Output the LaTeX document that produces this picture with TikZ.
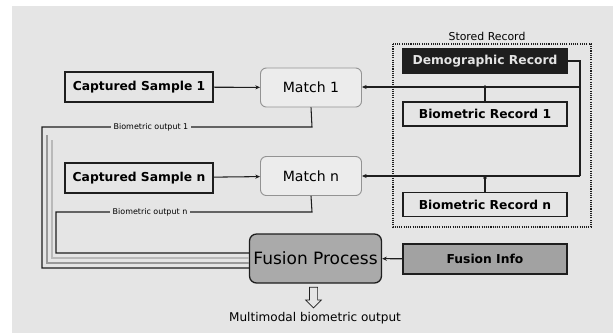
\documentclass[tikz,border=0pt]{standalone}
\usepackage{fontspec}
\setmainfont{DejaVu Sans}
\usetikzlibrary{arrows.meta,positioning,shapes.arrows}
\definecolor{panelgray}{RGB}{229,229,229}
\definecolor{matchgray}{RGB}{236,236,236}
\definecolor{fusiongray}{RGB}{170,170,170}
\definecolor{infogray}{RGB}{162,162,162}
\definecolor{darkline}{RGB}{30,30,30}

\begin{document}
\begin{tikzpicture}[
    x=0.03cm, y=-0.03cm,
    box/.style={draw=darkline, line width=1.1pt, fill=panelgray, inner sep=0pt, align=center, font=\bfseries\fontsize{10.5}{12}\selectfont},
    sample/.style={box, minimum width=4.44cm, minimum height=0.9cm},
    record/.style={box, minimum width=4.92cm, minimum height=0.72cm},
    matcher/.style={draw=gray!85, line width=0.8pt, rounded corners=5pt, fill=matchgray, minimum width=3.03cm, minimum height=1.17cm, font=\fontsize{12}{14}\selectfont},
    small/.style={fill=panelgray, inner sep=2.5pt, font=\fontsize{6.8}{8}\selectfont},
    link/.style={draw=darkline, line width=0.9pt},
    arrow/.style={link, -{Stealth[length=4pt,width=3.5pt]}},
    shade1/.style={draw=gray!80, line width=1pt},
    shade2/.style={draw=gray!55, line width=1pt}
]
% canvas
\fill[white] (0,0) rectangle (613,333);
\fill[panelgray] (12,6) rectangle (613,333);

% Stored record panel
\draw[darkline, densely dotted, line width=0.9pt] (393,44) rectangle (591,227);
\node[font=\fontsize{9.3}{10}\selectfont] (stored) at (487,36) {Stored Record};

% Samples and matchers
\node[sample] (cs1) at (139,87) {Captured Sample 1};
\node[matcher] (m1) at (311,87.5) {Match 1};
\node[sample] (csn) at (139,178) {Captured Sample n};
\node[matcher] (mn) at (311,176) {Match n};

% Records
\node[record, fill=darkline, text=white!90!black] (demo) at (485,61) {Demographic Record};
\node[record] (br1) at (485,114) {Biometric Record 1};
\node[record] (brn) at (485,204.5) {Biometric Record n};

% Fusion
\node[draw=darkline, line width=1.1pt, rounded corners=6pt, fill=fusiongray, minimum width=3.93cm, minimum height=1.47cm, font=\fontsize{14.5}{16}\selectfont] (fusion) at (315.5,258.5) {Fusion Process};
\node[box, fill=infogray, minimum width=4.92cm, minimum height=0.9cm] (info) at (485,259) {Fusion Info};
\node[single arrow, draw=darkline, fill=white!90!black, line width=0.6pt, shape border rotate=270, minimum height=0.62cm, single arrow head extend=3.2pt, inner sep=3.2pt] (outarrow) at (313.5,295.5) {};
\node[font=\fontsize{10.3}{12}\selectfont] (outtxt) at (315,318) {Multimodal biometric output};

% bend points
\coordinate (j1) at (485,87);
\coordinate (jn) at (485,178);
\coordinate (rtop) at (580,61);

% Arrows - samples to matchers
\draw[arrow] (cs1) -- (m1);
\draw[arrow] (csn) -- (mn);

% Arrows - records to matchers
\draw[link] (demo.east) -- (rtop) -- (rtop |- mn.east) coordinate (rbot);
\draw[arrow] (rtop |- j1) -- (m1.east |- j1);
\draw[arrow] (rbot) -- (mn.east |- rbot);
\draw[link] (j1) -- (br1.north);
\draw[link] (jn) -- (brn.north);
\fill[darkline] (j1) circle (1.6pt) (jn) circle (1.6pt);

% shadow lines into fusion
\draw[shade2] (52,140) -- (52,258) -- (fusion.west |- 0,258);
\draw[shade1] (47,135) -- (47,263) -- (fusion.west |- 0,263);

% Arrows - matcher outputs to fusion
\draw[link] (m1.south) -- (312,127) -- (42,127) -- (42,268) -- (fusion.west |- 0,268);
\draw[link] (mn.south) -- (312,212) -- (56,212) -- (56,253) -- (fusion.west |- 0,253);
\node[small] (bo1) at (151,127) {Biometric output 1};
\node[small] (bon) at (150,212) {Biometric output n};

\draw[arrow] (info) -- (fusion);

\end{tikzpicture}
\end{document}
